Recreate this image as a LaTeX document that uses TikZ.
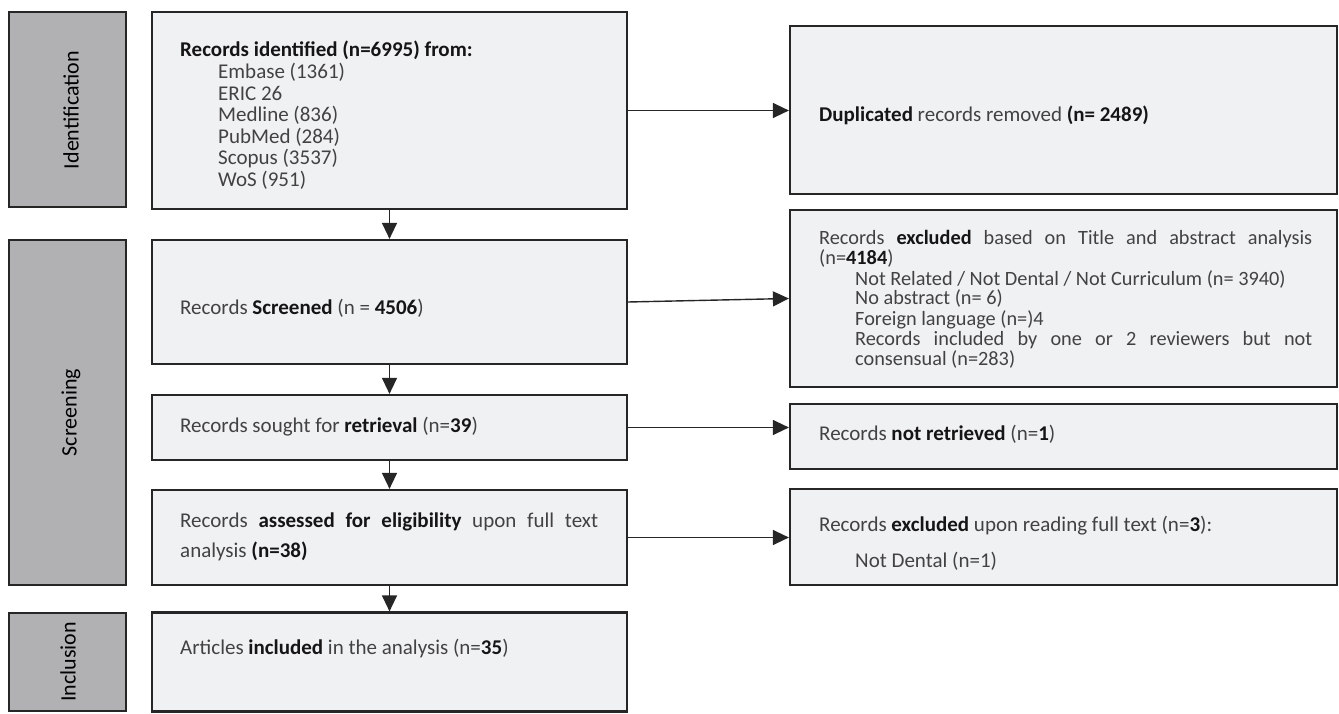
\documentclass[tikz,border=0pt]{standalone}
\usepackage{fontspec}
\setmainfont{Carlito}
\usetikzlibrary{arrows.meta}
\definecolor{boxfill}{HTML}{F0F1F3}
\definecolor{sidefill}{HTML}{B1B1B4}
\definecolor{edgecol}{HTML}{262626}
\definecolor{txt}{HTML}{424242}
\definecolor{btxt}{HTML}{151515}
\newcommand{\bb}[1]{{\bfseries\color{btxt}#1}}
\begin{document}
\begin{tikzpicture}[x=1pt,y=-1pt,
  mainbox/.style={draw=edgecol, fill=boxfill, line width=2.2pt, inner sep=0pt},
  sidebox/.style={draw=edgecol, fill=sidefill, line width=2.8pt, inner sep=0pt},
  lbl/.style={anchor=base west, inner sep=0pt, text=txt, font=\fontsize{21}{21}\selectfont},
  tight/.style={lbl, font=\fontsize{20.3}{20}\selectfont},
  sidelbl/.style={rotate=90, text=black, inner sep=0pt, font=\fontsize{22}{22}\selectfont},
  flow/.style={draw=edgecol, line width=1.4pt, -{Triangle[length=16pt,width=15pt]}}
]
\useasboundingbox (0,0) rectangle (1339,714);

% side boxes
\node[sidebox, minimum width=117pt, minimum height=195pt] (sid) at (67.5,109.5) {};
\node[sidebox, minimum width=117pt, minimum height=345pt] (sscr) at (67.5,412.5) {};
\node[sidebox, minimum width=117pt, minimum height=98pt] (sinc) at (67.5,662) {};
\node[sidelbl] (tid) at (71,110) {Identification};
\node[sidelbl] (tscr) at (71,412.5) {Screening};
\node[sidelbl] (tinc) at (68,662) {Inclusion};

% main boxes
\node[mainbox, minimum width=475pt, minimum height=197pt] (b1) at (389.5,110.5) {};
\node[mainbox, minimum width=475pt, minimum height=124pt] (b2) at (389.5,302) {};
\node[mainbox, minimum width=475pt, minimum height=65pt] (b3) at (389.5,427.5) {};
\node[mainbox, minimum width=475pt, minimum height=95pt] (b4) at (389.5,537.5) {};
\node[mainbox, minimum width=475pt, minimum height=99pt] (b5) at (389.5,662) {};

% right boxes
\node[mainbox, minimum width=547pt, minimum height=168pt] (r1) at (1063.5,110) {};
\node[mainbox, minimum width=547pt, minimum height=177pt] (r2) at (1063.5,298.5) {};
\node[mainbox, minimum width=547pt, minimum height=65pt] (r3) at (1063.5,436.5) {};
\node[mainbox, minimum width=547pt, minimum height=96pt] (r4) at (1063.5,537) {};

% texts: box 1
\node[lbl] (t1a) at (180,57) {\bb{Records identified (n=6995) from:}};
\node[lbl] (t1b) at (218,79) {Embase (1361)};
\node[lbl] (t1c) at (218,100.5) {ERIC 26};
\node[lbl] (t1d) at (218,122) {Medline (836)};
\node[lbl] (t1e) at (218,143.5) {PubMed (284)};
\node[lbl] (t1f) at (218,165) {Scopus (3537)};
\node[lbl] (t1g) at (218,186.5) {WoS (951)};

\node[lbl] (t2) at (180,314) {Records \bb{Screened} (n = \bb{4506})};
\node[lbl] (t3) at (180,432) {Records sought for \bb{retrieval} (n=\bb{39})};
\node[lbl] (t4a) at (180,527) {\makebox[418pt][s]{Records \bb{assessed for eligibility} upon full text}};
\node[lbl] (t4b) at (180,557) {analysis \bb{(n=38)}};
\node[lbl] (t5) at (180,654) {Articles \bb{included} in the analysis (n=\bb{35})};

% right texts
\node[lbl] (u1) at (819,122) {\bb{Duplicated} records removed \bb{(n= 2489)}};
\node[tight] (u2a) at (819,245) {\makebox[493pt][s]{Records \bb{excluded} based on Title and abstract analysis}};
\node[tight] (u2b) at (819,265) {(n=\bb{4184})};
\node[tight] (u2c) at (855,285) {Not Related / Not Dental / Not Curriculum (n= 3940)};
\node[tight] (u2d) at (855,305) {No abstract (n= 6)};
\node[tight] (u2e) at (855,325) {Foreign language (n=)4};
\node[tight] (u2f) at (855,345) {\makebox[457pt][s]{Records included by one or 2 reviewers but not}};
\node[tight] (u2g) at (855,365) {consensual (n=283)};
\node[lbl] (u3) at (819,440) {Records \bb{not retrieved} (n=\bb{1})};
\node[lbl] (u4a) at (819,531) {Records \bb{excluded} upon reading full text (n=\bb{3}):};
\node[lbl] (u4b) at (855,567) {Not Dental (n=1)};

% connectors
\draw[flow] (b1.south) -- (b2.north);
\draw[flow] (b2.south) -- (b3.north);
\draw[flow] (b3.south) -- (b4.north);
\draw[flow] (b4.south) -- (b5.north);
\draw[flow] (b1.east) -- (b1.east -| r1.west);
\draw[flow] (b2.east) -- (r2.west);
\draw[flow] (b3.east) -- (b3.east -| r3.west);
\draw[flow] (b4.east) -- (b4.east -| r4.west);
\end{tikzpicture}
\end{document}
